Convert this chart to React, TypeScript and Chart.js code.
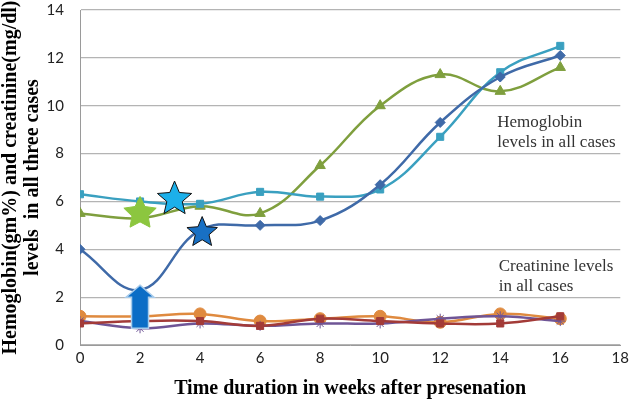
import React, { useEffect, useRef } from "react";
import { Chart, registerables } from "chart.js";

Chart.register(...registerables);

const weeks = [0, 2, 4, 6, 8, 10, 12, 14, 16];
const hbCase1 = [4.0, 2.3, 4.8, 5.0, 5.2, 6.7, 9.3, 11.2, 12.1];
const hbCase2 = [6.3, 6.0, 5.9, 6.4, 6.2, 6.5, 8.7, 11.4, 12.5];
const hbCase3 = [5.5, 5.3, 5.8, 5.5, 7.5, 10.0, 11.3, 10.6, 11.6];
const crCase1 = [0.9, 1.0, 1.0, 0.8, 1.1, 1.0, 0.9, 0.9, 1.2];
const crCase2 = [1.0, 0.7, 0.9, 0.8, 0.9, 0.9, 1.1, 1.2, 1.0];
const crCase3 = [1.2, 1.2, 1.3, 1.0, 1.1, 1.2, 0.95, 1.3, 1.1];

const yTicks = [0, 2, 4, 6, 8, 10, 12, 14];
const xTicks = [0, 2, 4, 6, 8, 10, 12, 14, 16, 18];

// annotation stars: [x, y] in data units
const starXs = [2, 3.15, 4.07];
const starYs = [5.5, 6.1, 4.7];
const starColors = ["#8cc63f", "#1cb0ea", "#1870c4"];
const starOutlines = ["#8cc63f", "#111111", "#111111"];
const starSizes = [17, 18, 16];

// arrow: x, bottom y, top y
const arrowX = [2];
const arrowBottom = [0.7];
const arrowTop = [2.5];

const noteLines = [
  ["Hemoglobin", "levels in all cases"],
  ["Creatinine levels", "in all cases"],
];
const noteX = [13.9, 13.95];
const noteY = [9.3, 3.3];

function drawStar(ctx: CanvasRenderingContext2D, cx: number, cy: number, r: number, ratio: number) {
  const inner = r * ratio;
  ctx.beginPath();
  for (let i = 0; i < 10; i++) {
    const rad = i % 2 === 0 ? r : inner;
    const a = -Math.PI / 2 + (i * Math.PI) / 5;
    const x = cx + rad * Math.cos(a);
    const y = cy + rad * Math.sin(a);
    if (i === 0) ctx.moveTo(x, y);
    else ctx.lineTo(x, y);
  }
  ctx.closePath();
}

const annotationPlugin = {
  id: "annots",
  afterDatasetsDraw(chart: any) {
    const ctx = chart.ctx as CanvasRenderingContext2D;
    const xs = chart.scales.x;
    const ys = chart.scales.y;
    ctx.save();
    // arrow
    for (let i = 0; i < arrowX.length; i++) {
      const cx = xs.getPixelForValue(arrowX[i]);
      const yb = ys.getPixelForValue(arrowBottom[i]);
      const yt = ys.getPixelForValue(arrowTop[i]);
      const shaftW = 8.5;
      const headW = 14;
      const headH = 12;
      ctx.beginPath();
      ctx.moveTo(cx - shaftW, yb);
      ctx.lineTo(cx - shaftW, yt + headH);
      ctx.lineTo(cx - headW, yt + headH);
      ctx.lineTo(cx, yt);
      ctx.lineTo(cx + headW, yt + headH);
      ctx.lineTo(cx + shaftW, yt + headH);
      ctx.lineTo(cx + shaftW, yb);
      ctx.closePath();
      ctx.fillStyle = "#0b6dc6";
      ctx.fill();
      ctx.strokeStyle = "#a8cbea";
      ctx.lineWidth = 1.5;
      ctx.stroke();
    }
    // stars
    for (let i = 0; i < starXs.length; i++) {
      const cx = xs.getPixelForValue(starXs[i]);
      const cy = ys.getPixelForValue(starYs[i]);
      drawStar(ctx, cx, cy, starSizes[i], i === 0 ? 0.5 : 0.45);
      ctx.fillStyle = starColors[i];
      ctx.fill();
      ctx.strokeStyle = starOutlines[i];
      ctx.lineWidth = 1;
      ctx.stroke();
    }
    // notes
    ctx.fillStyle = "#333333";
    ctx.font = '17px "Liberation Serif", "DejaVu Serif", serif';
    ctx.textAlign = "left";
    ctx.textBaseline = "middle";
    for (let i = 0; i < noteLines.length; i++) {
      const x = xs.getPixelForValue(noteX[i]);
      const y = ys.getPixelForValue(noteY[i]);
      noteLines[i].forEach((t, j) => ctx.fillText(t, x, y + j * 20));
    }
    ctx.restore();
  },
};

export default function App() {
  const ref = useRef<HTMLCanvasElement | null>(null);
  useEffect(() => {
    document.body.style.margin = "0";
    const mk = (data: number[], color: string, style: any, radius = 5) => ({
      data: weeks.map((w, i) => ({ x: w, y: data[i] })),
      borderColor: color,
      backgroundColor: color,
      pointStyle: style,
      pointRadius: radius,
      pointBorderColor: color,
      pointBackgroundColor: color,
      pointBorderWidth: 1,
      borderWidth: 2.5,
      tension: 0.4,
    });
    const chart = new Chart(ref.current as HTMLCanvasElement, {
      type: "line",
      data: {
        datasets: [
          mk(hbCase1, "#3f6aa8", "rectRot", 5),
          mk(hbCase2, "#3aa0c0", "rect", 5),
          mk(hbCase3, "#7f9f3e", "triangle", 6),
          mk(crCase1, "#a33b38", "rect", 5),
          mk(crCase2, "#6f5596", "star", 5),
          mk(crCase3, "#df8a3f", "circle", 6),
        ] as any,
      },
      options: {
        responsive: false,
        animation: false,
        layout: { padding: { left: 0, right: 0, top: 10, bottom: 0 } },
        plugins: { legend: { display: false }, tooltip: { enabled: false } },
        scales: {
          x: {
            type: "linear",
            min: 0,
            max: 18,
            afterBuildTicks: (s: any) => {
              s.ticks = xTicks.map((v) => ({ value: v }));
            },
            afterFit: (s: any) => {
              s.height = 56;
            },
            grid: { display: false, drawTicks: false },
            border: { color: "#9a9a9a", width: 1 },
            ticks: {
              color: "#222",
              font: { family: "Lato, 'Open Sans', sans-serif", size: 15 },
              padding: 4,
            },
            title: {
              display: true,
              text: "Time duration in weeks after presenation",
              color: "#000",
              font: { family: "'Liberation Serif', serif", size: 20, weight: "bold" },
              padding: { top: 4, bottom: 0 },
            },
          },
          y: {
            min: 0,
            max: 14,
            afterBuildTicks: (s: any) => {
              s.ticks = yTicks.map((v) => ({ value: v }));
            },
            afterFit: (s: any) => {
              s.width = 80;
              s.paddingTop = 0;
              s.paddingBottom = 0;
            },
            grid: { color: "#b4b4b4", lineWidth: 1.2, drawTicks: false },
            border: { color: "#9a9a9a", width: 1 },
            ticks: {
              color: "#222",
              font: { family: "Lato, 'Open Sans', sans-serif", size: 15 },
              padding: 16,
            },
            title: {
              display: true,
              text: ["Hemoglobin(gm%) and creatinine(mg/dl)", "levels  in all three cases"],
              color: "#000",
              font: { family: "'Liberation Serif', serif", size: 20, weight: "bold", lineHeight: 1.1 },
              padding: { top: 0, bottom: 0 },
            },
          },
        },
      },
      plugins: [annotationPlugin],
    });
    return () => chart.destroy();
  }, []);
  return <canvas ref={ref} width={633} height={401} style={{ display: "block" }} />;
}
